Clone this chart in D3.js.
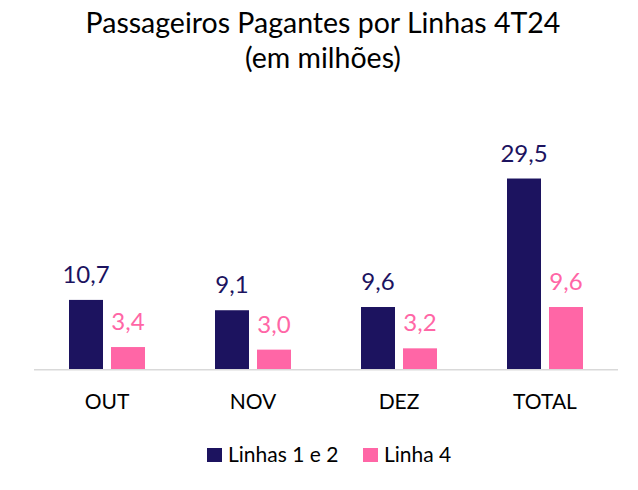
<!DOCTYPE html>
<html>
<head>
<meta charset="utf-8">
<script src="https://cdn.jsdelivr.net/npm/d3@7"></script>
<style>
  body { margin: 0; background: #fff; }
  text { font-family: Lato, "Open Sans", sans-serif; }
</style>
</head>
<body>
<div id="app"></div>
<script>
// Chart data
const months = ["OUT", "NOV", "DEZ", "TOTAL"];
const seriesNames = ["Linhas 1 e 2", "Linha 4"];
const linhas12 = [10.7, 9.1, 9.6, 29.5];
const linha4 = [3.4, 3.0, 3.2, 9.6];
const colors = ["#1C135F", "#FF66A6"];

const width = 638;
const height = 490;

const svg = d3
  .select("#app")
  .append("svg")
  .attr("width", width)
  .attr("height", height);

// Title
svg
  .append("text")
  .attr("x", 323)
  .attr("y", 33)
  .attr("text-anchor", "middle")
  .style("font-size", "28.5px")
  .attr("fill", "#000")
  .text("Passageiros Pagantes por Linhas 4T24");

svg
  .append("text")
  .attr("x", 323)
  .attr("y", 68)
  .attr("text-anchor", "middle")
  .style("font-size", "28.5px")
  .attr("fill", "#000")
  .text("(em milhões)");

// Scales
const xScale = d3.scaleBand().domain(months).range([34, 618]);

const xInner = d3
  .scaleBand()
  .domain(seriesNames)
  .range([xScale.bandwidth() / 2 - 38, xScale.bandwidth() / 2 + 38])
  .paddingInner(8 / 42);

const yScale = d3.scaleLinear().domain([0, 35]).range([369, 143]);

const rows = months.map((m, i) => ({
  month: m,
  values: [
    { name: seriesNames[0], value: linhas12[i], color: colors[0] },
    { name: seriesNames[1], value: linha4[i], color: colors[1] },
  ],
}));

// Baseline
svg
  .append("line")
  .attr("x1", 34)
  .attr("x2", 618)
  .attr("y1", yScale(0) + 0.75)
  .attr("y2", yScale(0) + 0.75)
  .attr("stroke", "#d9d9d9")
  .attr("stroke-width", 1.5);

const groups = svg
  .selectAll(".group")
  .data(rows)
  .enter()
  .append("g")
  .attr("class", "group")
  .attr("transform", (d) => `translate(${xScale(d.month)},0)`);

// Bars
groups
  .selectAll("rect")
  .data((d) => d.values)
  .enter()
  .append("rect")
  .attr("x", (d) => xInner(d.name))
  .attr("y", (d) => yScale(d.value))
  .attr("width", xInner.bandwidth())
  .attr("height", (d) => yScale(0) - yScale(d.value))
  .attr("fill", (d) => d.color);

// Value labels
groups
  .selectAll(".val")
  .data((d) => d.values)
  .enter()
  .append("text")
  .attr("class", "val")
  .attr("x", (d) => xInner(d.name) + xInner.bandwidth() / 2)
  .attr("y", (d) => yScale(d.value) - 17)
  .attr("text-anchor", "middle")
  .style("font-size", "24px")
  .attr("fill", (d) => d.color)
  .text((d) => d3.format(".1f")(d.value).replace(".", ","));

// Category labels
const xAxis = d3.axisBottom(xScale).tickSize(0).tickPadding(0);
svg
  .append("g")
  .attr("transform", `translate(0, ${yScale(0)})`)
  .call(xAxis)
  .call((g) => g.select(".domain").remove())
  .selectAll("text")
  .attr("dy", 0)
  .attr("y", 40)
  .style("font-size", "21px")
  .style("font-family", "Lato, sans-serif")
  .attr("fill", "#000");

// Legend
const legendX = [207, 363];
const legend = svg
  .selectAll(".legend")
  .data(seriesNames)
  .enter()
  .append("g")
  .attr("class", "legend")
  .attr("transform", (d, i) => `translate(${legendX[i]}, 448)`);

legend
  .append("rect")
  .attr("width", 15)
  .attr("height", 14)
  .attr("fill", (d, i) => colors[i]);

legend
  .append("text")
  .attr("x", 21)
  .attr("y", 14)
  .style("font-size", "21px")
  .attr("fill", "#000")
  .text((d) => d);
</script>
</body>
</html>
